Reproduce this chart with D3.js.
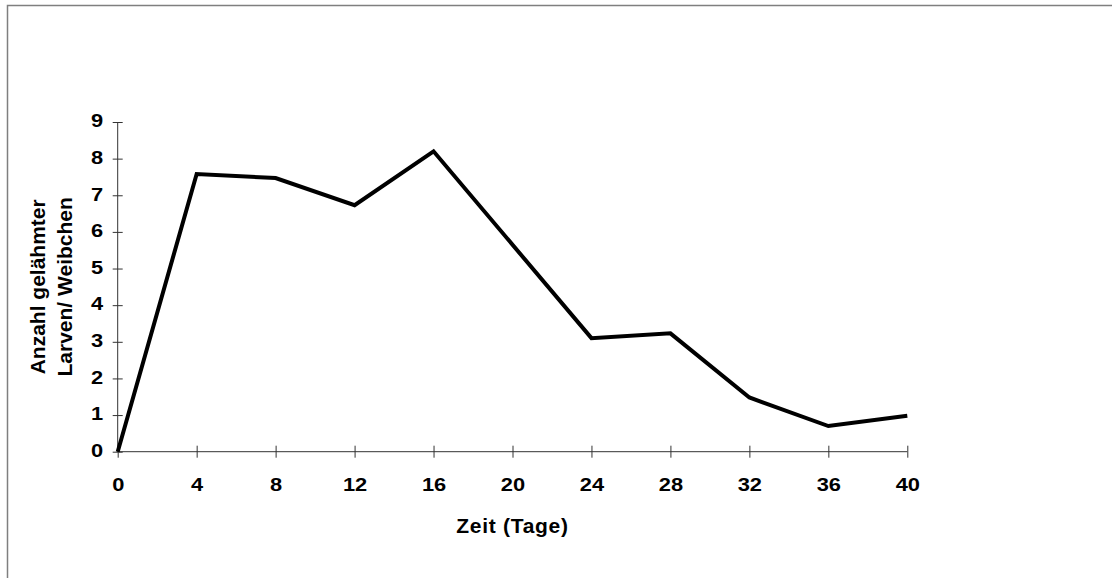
<!DOCTYPE html>
<html><head><meta charset="utf-8">
<script src="https://cdn.jsdelivr.net/npm/d3@7"></script>
<style>body{margin:0;background:#fff}svg{display:block}text{font-family:"Liberation Sans",Arial,sans-serif;font-weight:bold;fill:#000}</style>
</head><body>
<script>
const days = [0, 4, 8, 12, 16, 24, 28, 32, 36, 40];
const larvae = [0, 7.58, 7.47, 6.73, 8.2, 3.1, 3.23, 1.48, 0.7, 0.98];
const xTicks = [0, 4, 8, 12, 16, 20, 24, 28, 32, 36, 40];
const yTicks = [0, 1, 2, 3, 4, 5, 6, 7, 8, 9];
const xTitle = "Zeit (Tage)";
const yTitle = ["Anzahl gelähmter", "Larven/ Weibchen"];

const W = 1112, H = 578;
const svg = d3.select("body").append("svg").attr("width", W).attr("height", H);
svg.append("rect").attr("x", 7.5).attr("y", 5.5).attr("width", W + 10).attr("height", H + 10)
  .attr("fill", "none").attr("stroke", "#7f7f7f").attr("stroke-width", 1.5);

const x = d3.scaleLinear().domain([0, 40]).range([117.7, 907.3]);
const y = d3.scaleLinear().domain([0, 9]).range([451.7, 122]);

const xAxis = svg.append("g").attr("transform", `translate(0,${y(0)})`)
  .call(d3.axisBottom(x).tickValues(xTicks).tickSize(0).tickPadding(0).tickFormat(d3.format("d")));
xAxis.select(".domain").attr("stroke", "#333").attr("d", `M${x(0)},0H${x(40)}`);
xAxis.selectAll(".tick line").attr("y1", -6).attr("y2", 6).attr("stroke", "#333");
xAxis.selectAll(".tick text").attr("y", 0).attr("dy", null)
  .attr("transform", "translate(0,39) scale(1.15,1)")
  .attr("font-size", 19).style("font-weight", "bold");

const yAxis = svg.append("g").attr("transform", `translate(${x(0)},0)`)
  .call(d3.axisLeft(y).tickValues(yTicks).tickSize(0).tickPadding(0));
yAxis.select(".domain").attr("stroke", "#333").attr("d", `M0,${y(0)}V${y(9)}`);
yAxis.selectAll(".tick line").attr("x1", -5).attr("x2", 5).attr("stroke", "#333");
yAxis.selectAll(".tick text").attr("x", 0).attr("dy", "0.25em")
  .attr("transform", "translate(-14.5,0) scale(1.15,1)")
  .attr("font-size", 19).style("font-weight", "bold");

const line = d3.line().x((d, i) => x(days[i])).y(d => y(d));
svg.append("path").datum(larvae).attr("d", line).attr("fill", "none")
  .attr("stroke", "#000").attr("stroke-width", 4).attr("stroke-linejoin", "miter");

svg.append("text").attr("x", (x(0) + x(40)) / 2).attr("y", 533).attr("text-anchor", "middle")
  .attr("font-size", 21).style("letter-spacing", "0.7px").text(xTitle);

const yc = (y(0) + y(9)) / 2;
yTitle.forEach((t, i) => {
  svg.append("text").attr("transform", `translate(${45 + i * 26.7},${yc}) rotate(-90)`)
    .attr("text-anchor", "middle").attr("font-size", 21).text(t);
});
</script>
</body></html>
